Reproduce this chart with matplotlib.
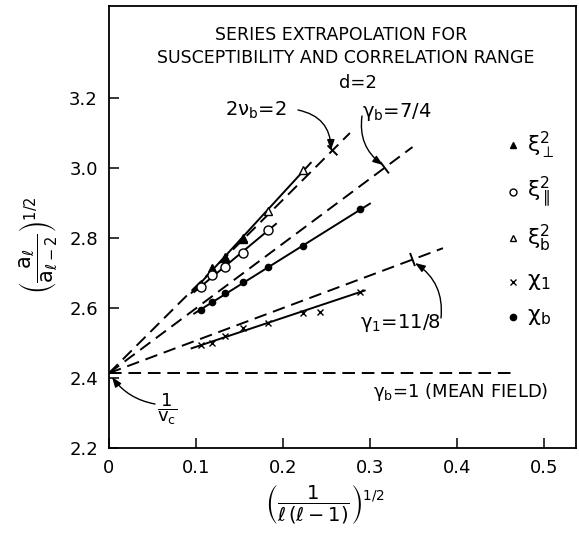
import numpy as np
import matplotlib
matplotlib.use("Agg")
import matplotlib.pyplot as plt

plt.rcParams["font.family"] = ["DejaVu Sans"]
plt.rcParams["mathtext.default"] = "regular"
plt.rcParams["mathtext.fontset"] = "dejavusans"

# ---- series data: x = (1/(l(l-1)))^(1/2), y = (a_l / a_{l-2})^(1/2)
x_xib = [0.1054, 0.1179, 0.1336, 0.1543, 0.1826, 0.2236]
y_xib = [2.670, 2.712, 2.747, 2.801, 2.878, 2.995]

x_xiperp = [0.1054, 0.1179, 0.1336, 0.1543]
y_xiperp = [2.665, 2.713, 2.743, 2.798]

x_xipar = [0.1054, 0.1179, 0.1336, 0.1543, 0.1826]
y_xipar = [2.660, 2.693, 2.716, 2.758, 2.824]

x_chib = [0.1054, 0.1179, 0.1336, 0.1543, 0.1826, 0.2236, 0.2887]
y_chib = [2.593, 2.616, 2.642, 2.673, 2.716, 2.776, 2.882]

x_chi1 = [0.1054, 0.1179, 0.1336, 0.1543, 0.1826, 0.2236, 0.2430, 0.2887]
y_chi1 = [2.493, 2.499, 2.519, 2.542, 2.556, 2.587, 2.588, 2.647]

# extrapolated lines from 1/v_c
inv_vc = 2.414
guide_names = ["2nu_b", "gamma_b", "gamma_1", "mean_field"]
guide_x_end = [0.277, 0.349, 0.384, 0.465]
guide_y_end = [3.100, 3.060, 2.771, 2.414]
guide_mark_x = [0.257, 0.317, 0.349, None]

xticks = [0, 0.1, 0.2, 0.3, 0.4, 0.5]
xtick_labels = ["0", "0.1", "0.2", "0.3", "0.4", "0.5"]
yticks = [2.2, 2.4, 2.6, 2.8, 3.0, 3.2]
ytick_labels = ["2.2", "2.4", "2.6", "2.8", "3.0", "3.2"]

W, H = 579, 533
fig = plt.figure(figsize=(W / 100, H / 100), dpi=100)
ax = fig.add_axes([109 / W, 1 - 448 / H, (576 - 109) / W, (448 - 6) / H])
ax.set_xlim(0, 0.537)
ax.set_ylim(2.2, 3.463)

for s in ax.spines.values():
    s.set_linewidth(1.3)
ax.set_xticks(xticks)
ax.set_xticklabels(xtick_labels)
ax.set_yticks(yticks)
ax.set_yticklabels(ytick_labels)
ax.tick_params(direction="in", length=7, width=1.1, labelsize=13, pad=8)

dash = dict(color="black", lw=1.4, dashes=(6.5, 3.5))

# dashed extrapolation lines with short perpendicular bars
fig.canvas.draw()
for xe, ye, xm in zip(guide_x_end, guide_y_end, guide_mark_x):
    ax.plot([0, xe], [inv_vc, ye], **dash)
    if xm is not None:
        slope = (ye - inv_vc) / xe
        ym = inv_vc + slope * xm
        p0 = ax.transData.transform((0, inv_vc))
        p1 = ax.transData.transform((xe, ye))
        d = (p1 - p0) / np.hypot(*(p1 - p0))
        perp = np.array([-d[1], d[0]])
        c = ax.transData.transform((xm, ym))
        a = ax.transData.inverted().transform(c + 6 * perp)
        b = ax.transData.inverted().transform(c - 6 * perp)
        ax.plot([a[0], b[0]], [a[1], b[1]], color="black", lw=1.4)

# solid fitted lines through series
def fit_line(xs, ys, x0, x1):
    k, b = np.polyfit(xs, ys, 1)
    xx = np.array([x0, x1])
    ax.plot(xx, k * xx + b, color="black", lw=1.4)

fit_line(x_xib, y_xib, 0.095, 0.232)
fit_line(x_xipar, y_xipar, 0.098, 0.192)
fit_line(x_chib, y_chib, 0.098, 0.300)
fit_line([x for x, y in zip(x_chi1, y_chi1) if x != 0.2430],
         [y for x, y in zip(x_chi1, y_chi1) if x != 0.2430], 0.095, 0.294)

# markers
mk = dict(linestyle="none", color="black", zorder=5)
ax.plot(x_xib, y_xib, marker="^", ms=6, mfc="white", mew=1.0, **mk)
ax.plot(x_xiperp, y_xiperp, marker="^", ms=6, mfc="black", **mk)
ax.plot(x_xipar, y_xipar, marker="o", ms=6.5, mfc="white", mew=1.0, **mk)
ax.plot(x_chib, y_chib, marker="o", ms=4.5, mfc="black", **mk)
ax.plot(x_chi1, y_chi1, marker="x", ms=5, mew=1.0, **mk)

# legend, drawn by hand
leg_rows = [("^", "black", 145, r"$\xi_\perp^2$"),
            ("o", "white", 192, r"$\xi_{\parallel}^2$"),
            ("^", "white", 238, r"$\xi_b^2$"),
            ("x", "black", 282, r"$\chi_1$"),
            (".", "black", 317, r"$\chi_b$")]
for m, fc, py, lab in leg_rows:
    ax.plot([513 / W], [1 - py / H], marker=m, ms=5 if m != "." else 9,
            mfc=fc, mec="black", mew=1.0, color="black",
            transform=fig.transFigure, clip_on=False)
    fig.text(527 / W, 1 - py / H, lab, fontsize=16, va="center", ha="left")

def ftext(px, py, s, **kw):
    fig.text(px / W, 1 - py / H, s, ha="center", va="center", **kw)

ftext(341, 35, "SERIES EXTRAPOLATION FOR", fontsize=12.5)
ftext(346, 58, "SUSCEPTIBILITY AND CORRELATION RANGE", fontsize=12.5)
ftext(358, 83, "d=2", fontsize=13)
ftext(256, 110, r"$2\nu_b$=2", fontsize=14)
ftext(397, 112, r"$\gamma_b$=7/4", fontsize=14)
ftext(400, 323, r"$\gamma_1$=11/8", fontsize=14)
ftext(461, 392, r"$\gamma_b$=1 (MEAN FIELD)", fontsize=13)
ftext(167, 409, r"$\dfrac{1}{v_c}$", fontsize=13)

# axis labels
ftext(38, 245, r"$\left(\dfrac{a_\ell}{a_{\ell-2}}\right)^{1/2}$", fontsize=15, rotation=90)
ftext(325, 505, r"$\left(\dfrac{1}{\ell\,(\ell-1)}\right)^{1/2}$", fontsize=14)

# curved pointer arrows
def pointer(start_px, end_px, rad):
    ax.annotate("", xy=(end_px[0], H - end_px[1]), xycoords="figure pixels",
                xytext=(start_px[0], H - start_px[1]), textcoords="figure pixels",
                arrowprops=dict(arrowstyle="-|>,head_length=0.6,head_width=0.22",
                                color="black", lw=1.0, shrinkA=0, shrinkB=0,
                                connectionstyle=f"arc3,rad={rad}"))

pointer((298, 110), (331, 150), -0.4)
pointer((362, 116), (383, 165), 0.3)
pointer((441, 318), (415, 263), 0.3)
pointer((155, 404), (112, 377), -0.2)

fig.savefig("out.png", dpi=100)
